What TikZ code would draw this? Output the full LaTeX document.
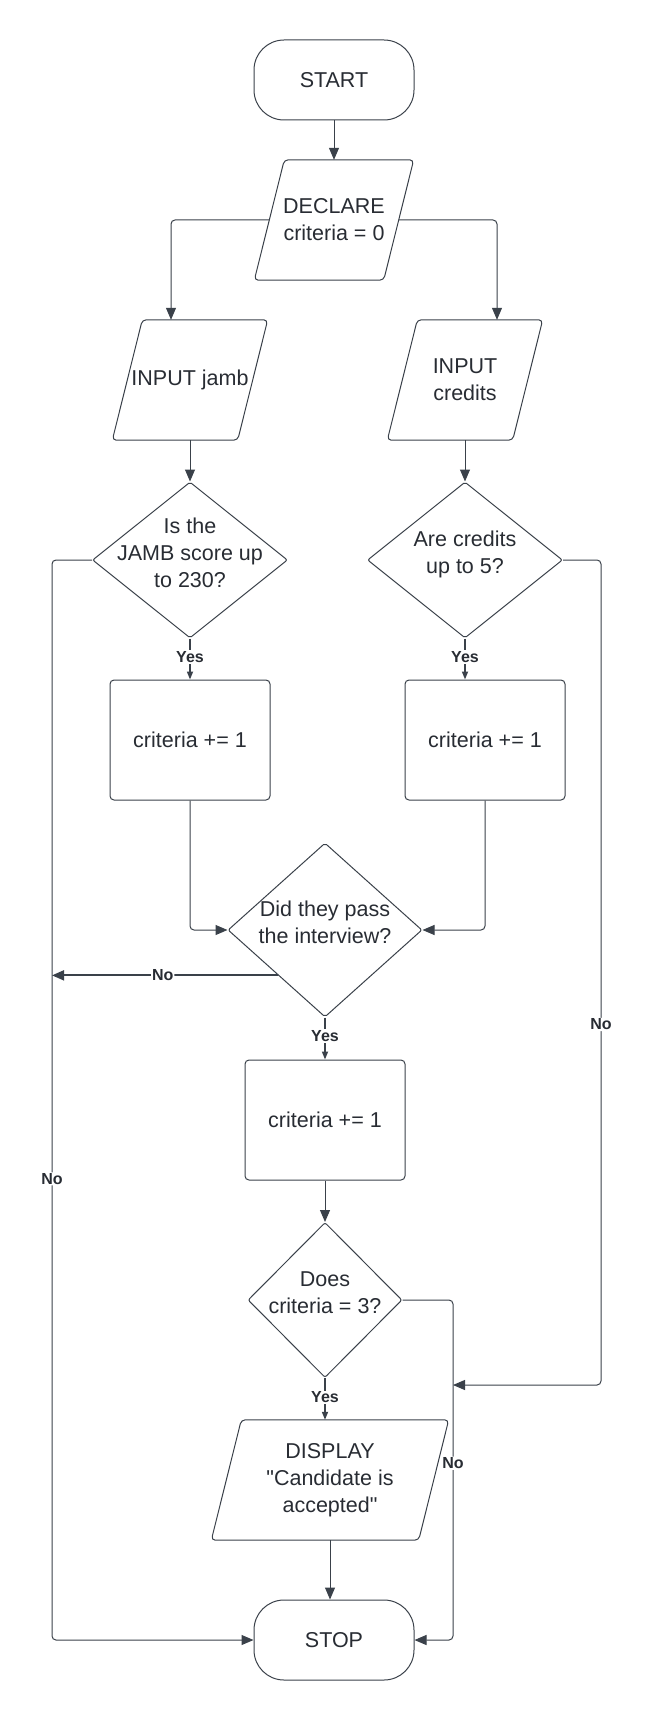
\documentclass[tikz,border=0pt]{standalone}
\usepackage{fontspec}
\setmainfont{Liberation Sans}[Ligatures=TeXOff]
\usetikzlibrary{shapes.geometric,arrows.meta}
\definecolor{linegray}{HTML}{3A414A}
\definecolor{textgray}{HTML}{282C33}
% question text in a diamond, takes no room so the diamond keeps its size
\newcommand{\qtext}[1]{\makebox[0pt]{\smash{\begin{tabular}{@{}c@{}}#1\end{tabular}}}}
\tikzset{
    every node/.style={text=textgray, font=\fontsize{21.5}{27}\selectfont},
    shapeline/.style={draw=linegray, line width=1pt},
    terminal/.style={shapeline, rectangle, rounded corners=30pt, minimum width=160pt, minimum height=80pt, align=center},
    io/.style={rectangle, minimum height=120pt, inner sep=0pt, align=center},
    process/.style={shapeline, rectangle, rounded corners=4pt, minimum width=160pt, minimum height=120pt, align=center},
    decision/.style={shapeline, diamond, rounded corners=2pt, inner sep=0pt},
    flow/.style={draw=linegray, line width=1pt, rounded corners=4pt, -{Triangle[length=12pt,width=10pt]}},
    yesflow/.style={draw=linegray, line width=1.6pt, -{Triangle[length=8pt,width=6pt]}},
    lbl/.style={font=\bfseries\fontsize{16}{18}\selectfont, fill=white, inner sep=1pt},
}
\begin{document}
\begin{tikzpicture}[x=1pt,y=-1pt]
    \useasboundingbox (0,0) rectangle (654,1720);
    % start and stop
    \node[terminal] (start) at (334,80) {START};
    \node[terminal] (stop) at (334,1640) {STOP};
    % input / output boxes
    \node[io, minimum width=129pt] (declare) at (334,220) {DECLARE\\criteria = 0};
    \node[io, minimum width=125pt] (jamb) at (190,380) {INPUT jamb};
    \node[io, minimum width=125pt] (credits) at (465,380) {INPUT\\credits};
    \node[io, minimum width=207pt] (display) at (330,1480) {DISPLAY\\"Candidate is\\accepted"};
    % slanted outlines round them
    \foreach \n in {declare,jamb,credits,display}
        \draw[shapeline, rounded corners=4pt] ([xshift=15pt]\n.north west) -- ([xshift=15pt]\n.north east)
            -- ([xshift=-15pt]\n.south east) -- ([xshift=-15pt]\n.south west) -- cycle;
    % questions
    \node[decision, minimum width=195pt, minimum height=156pt] (jambq) at (190,560) {\qtext{Is the\\JAMB score up\\to 230?}};
    \node[decision, minimum width=195pt, minimum height=156pt] (creditsq) at (465,560) {\qtext{Are credits\\up to 5?}};
    \node[decision, minimum width=194pt, minimum height=174pt] (interview) at (325,930) {\qtext{Did they pass\\the interview?}};
    \node[decision, minimum width=154pt, minimum height=155pt] (countq) at (325,1300) {\qtext{Does\\criteria = 3?}};
    % counters
    \node[process] (box1) at (190,740) {criteria += 1};
    \node[process] (box2) at (485,740) {criteria += 1};
    \node[process] (box3) at (325,1120) {criteria += 1};
    % rails for the no branches
    \coordinate (railL) at (52,560);
    \coordinate (railR) at (601,560);
    \coordinate (merge) at (453,1385);

    \draw[flow] (start.south) -- (declare.north);
    \draw[flow] (declare.west) -| ([xshift=-19pt]jamb.north);
    \draw[flow] (declare.east) -| ([xshift=32pt]credits.north);
    \draw[flow] (jamb.south) -- (jambq.north);
    \draw[flow] (credits.south) -- (creditsq.north);
    % yes branches
    \draw[yesflow] (jambq.south) -- (box1.north) node[lbl, pos=0.45] {Yes};
    \draw[yesflow] (creditsq.south) -- (creditsq.south |- box2.north) node[lbl, pos=0.45] {Yes};
    \draw[flow] (box1.south) |- (interview.west);
    \draw[flow] (box2.south) |- (interview.east);
    \draw[yesflow] (interview.south) -- (box3.north) node[lbl, pos=0.44] {Yes};
    \draw[flow] (box3.south) -- (countq.north);
    \draw[yesflow] (countq.south) -- (countq.south |- display.north) node[lbl, pos=0.46] {Yes};
    \draw[flow] (display.south) -- (display.south |- stop.north);
    % no branches
    \draw[flow] (jambq.west) -- (railL) -- (railL |- stop.west) node[lbl, pos=0.573] {No} -- (stop.west);
    \draw[flow, line width=1.8pt] (interview.-136) -- (interview.-136 -| railL) node[lbl, pos=0.51] {No};
    \draw[flow] (creditsq.east) -- (railR) -- (railR |- merge) node[lbl, pos=0.563] {No} -- (merge);
    \draw[flow] (countq.east) -- (countq.east -| merge) -- (merge |- stop.east) node[lbl, pos=0.48] {No} -- (stop.east);
\end{tikzpicture}
\end{document}
